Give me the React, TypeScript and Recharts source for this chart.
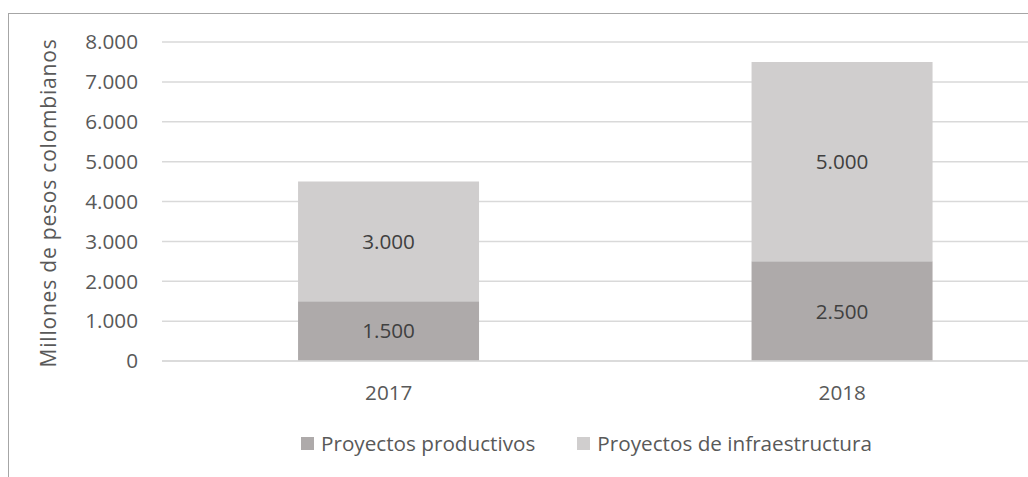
import React from 'react'
import {
  BarChart,
  Bar,
  XAxis,
  YAxis,
  CartesianGrid,
  Legend,
  LabelList,
  Label
} from 'recharts'

// Inversión por año (millones de pesos colombianos)
const years = ['2017', '2018']
const productivos = [1500, 2500]
const infraestructura = [3000, 5000]
const yTicks = [0, 1000, 2000, 3000, 4000, 5000, 6000, 7000, 8000]

const seriesNames = ['Proyectos productivos', 'Proyectos de infraestructura']
const seriesColors = ['#AEAAAA', '#D0CECE']

const FONT = '"Open Sans", "Noto Sans", sans-serif'
const TEXT = '#595959'
const SIZE = 20.7

const data = years.map((year, i) => ({
  year,
  productivos: productivos[i],
  infraestructura: infraestructura[i]
}))

// 1500 -> 1.500
const fmt = (n: number) => String(n).replace(/\B(?=(\d{3})+(?!\d))/g, '.')

const AxisTitle = () => (
  <text
    x={48}
    y={203}
    transform="rotate(-90 48 203)"
    textAnchor="middle"
    dominantBaseline="central"
    fill={TEXT}
    fontSize={21}
    letterSpacing={0.8}
    fontFamily={FONT}
  >
    Millones de pesos colombianos
  </text>
)

const CustomLegend = () => (
  <div style={{ display: 'flex', alignItems: 'center', fontFamily: FONT, fontSize: SIZE, color: TEXT }}>
    {seriesNames.map((name, i) => (
      <div key={name} style={{ display: 'flex', alignItems: 'center', marginLeft: i === 0 ? 0 : 42 }}>
        <span style={{ width: 13, height: 13, background: seriesColors[i], marginRight: 7 }} />
        <span>{name}</span>
      </div>
    ))}
  </div>
)

export default function App() {
  return (
    <div
      style={{
        position: 'absolute',
        left: 0,
        top: 0,
        width: 1028,
        height: 477,
        overflow: 'hidden',
        background: '#fff'
      }}
    >
      {/* chart frame, only top and left edges fall inside the crop */}
      <div
        style={{
          position: 'absolute',
          left: 8,
          top: 13,
          width: 1200,
          height: 600,
          border: '1px solid #A6A6A6'
        }}
      />
      <div style={{ position: 'absolute', left: 0, top: 0 }}>
        <BarChart
          width={1100}
          height={477}
          data={data}
          margin={{ top: 42, right: 31, left: 0, bottom: 76 }}
          barCategoryGap="30%"
        >
          <CartesianGrid vertical={false} stroke="#D9D9D9" strokeWidth={1.5} />
          <XAxis
            dataKey="year"
            height={40}
            axisLine={{ stroke: '#D9D9D9', strokeWidth: 1.5 }}
            tickLine={false}
            tickSize={0}
            tickMargin={24}
            tick={{ fill: TEXT, fontSize: SIZE, fontFamily: FONT }}
          />
          <YAxis
            width={162}
            domain={[0, 8000]}
            ticks={yTicks}
            tickFormatter={fmt}
            axisLine={false}
            tickLine={false}
            tickSize={0}
            tickMargin={24}
            tick={{ fill: TEXT, fontSize: SIZE, fontFamily: FONT }}
          >
            <Label content={<AxisTitle />} />
          </YAxis>
          <Legend
            verticalAlign="middle"
            align="center"
            layout="horizontal"
            wrapperStyle={{ left: 301, top: 429, width: 720 }}
            content={<CustomLegend />}
          />
          <Bar
            dataKey="productivos"
            name={seriesNames[0]}
            stackId="a"
            fill={seriesColors[0]}
            isAnimationActive={false}
          >
            <LabelList
              dataKey="productivos"
              position="center"
              formatter={(v: any) => fmt(Number(v))}
              fill="#404040"
              fontSize={SIZE}
              fontFamily={FONT}
            />
          </Bar>
          <Bar
            dataKey="infraestructura"
            name={seriesNames[1]}
            stackId="a"
            fill={seriesColors[1]}
            isAnimationActive={false}
          >
            <LabelList
              dataKey="infraestructura"
              position="center"
              formatter={(v: any) => fmt(Number(v))}
              fill="#404040"
              fontSize={SIZE}
              fontFamily={FONT}
            />
          </Bar>
        </BarChart>
      </div>
    </div>
  )
}
